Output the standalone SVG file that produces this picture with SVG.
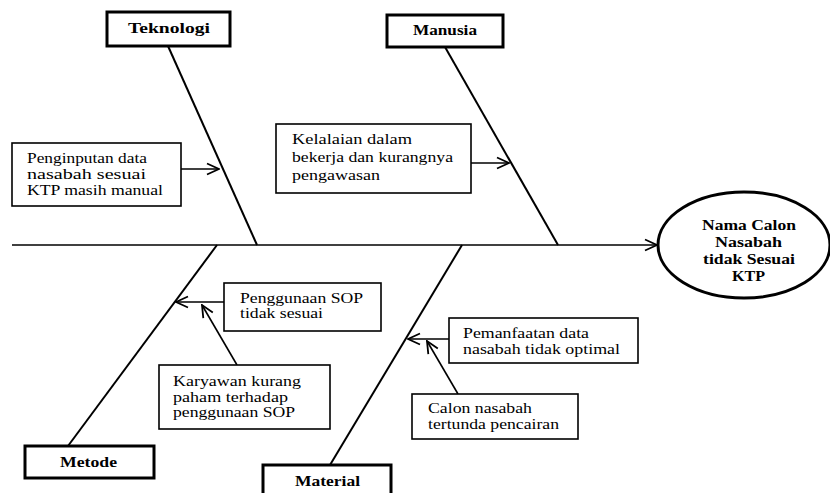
<svg xmlns="http://www.w3.org/2000/svg" width="830" height="493" viewBox="0 0 830 493">
<defs>
<marker id="arr" markerUnits="userSpaceOnUse" markerWidth="14" markerHeight="14" viewBox="0 0 14 14" refX="13" refY="7" orient="auto">
<path d="M1,1.5 L13,7 L1,12.5" fill="none" stroke="#000" stroke-width="1.8"/>
</marker>
</defs>
<style>
.cat{fill:#fff;stroke:#000;stroke-width:3}
.box{fill:#fff;stroke:#000;stroke-width:1.6}
.ln{stroke:#000;stroke-width:2;fill:none}
.ar{stroke:#000;stroke-width:1.6;fill:none;marker-end:url(#arr)}
text{font-family:'Liberation Serif','DejaVu Serif','Times New Roman',serif;font-size:14.5px;fill:#000}
.b{font-weight:bold}
</style>
<rect width="830" height="493" fill="#fff"/>
<g id="connectors">
<line class="ar" x1="12" y1="245" x2="657" y2="245" stroke-width="2"/>
<line class="ln" x1="168" y1="46" x2="257" y2="245"/>
<line class="ln" x1="445" y1="47" x2="558" y2="245"/>
<line class="ln" x1="217" y1="245" x2="68" y2="446"/>
<line class="ln" x1="462" y1="245" x2="330" y2="465"/>
<line class="ar" x1="181" y1="169" x2="219" y2="169"/>
<line class="ar" x1="471" y1="163" x2="509" y2="163"/>
<line class="ar" x1="224" y1="302" x2="176" y2="302"/>
<line class="ar" x1="237" y1="365" x2="202" y2="305"/>
<line class="ar" x1="449" y1="339" x2="408" y2="339"/>
<line class="ar" x1="458" y1="394" x2="427" y2="341"/>
</g>
<g id="teknologi">
<rect class="cat" x="107" y="12" width="123" height="34"/>
<text class="b" x="128" y="33" textLength="82" lengthAdjust="spacingAndGlyphs">Teknologi</text>
</g>
<g id="manusia">
<rect class="cat" x="387" y="15" width="116" height="32"/>
<text class="b" x="413" y="35" textLength="64" lengthAdjust="spacingAndGlyphs">Manusia</text>
</g>
<g id="metode">
<rect class="cat" x="25" y="446" width="129" height="32"/>
<text class="b" x="60" y="467" textLength="57" lengthAdjust="spacingAndGlyphs">Metode</text>
</g>
<g id="material">
<rect class="cat" x="263" y="465" width="128" height="32"/>
<text class="b" x="295" y="486" textLength="65" lengthAdjust="spacingAndGlyphs">Material</text>
</g>
<g id="effect">
<ellipse cx="744" cy="245" rx="86" ry="53" fill="#fff" stroke="#000" stroke-width="3"/>
<text class="b" x="702" y="230" textLength="94" lengthAdjust="spacingAndGlyphs">Nama Calon</text>
<text class="b" x="715" y="247" textLength="67" lengthAdjust="spacingAndGlyphs">Nasabah</text>
<text class="b" x="703" y="264" textLength="92" lengthAdjust="spacingAndGlyphs">tidak Sesuai</text>
<text class="b" x="732" y="281" textLength="33" lengthAdjust="spacingAndGlyphs">KTP</text>
</g>
<g id="penginputan">
<rect class="box" x="12" y="143" width="169" height="63"/>
<text x="27" y="163" textLength="120" lengthAdjust="spacingAndGlyphs">Penginputan data</text>
<text x="27" y="179" textLength="119" lengthAdjust="spacingAndGlyphs">nasabah sesuai</text>
<text x="27" y="195" textLength="136" lengthAdjust="spacingAndGlyphs">KTP masih manual</text>
</g>
<g id="kelalaian">
<rect class="box" x="276" y="124" width="195" height="69"/>
<text x="292" y="144" textLength="120" lengthAdjust="spacingAndGlyphs">Kelalaian dalam</text>
<text x="292" y="162" textLength="161" lengthAdjust="spacingAndGlyphs">bekerja dan kurangnya</text>
<text x="292" y="180" textLength="88" lengthAdjust="spacingAndGlyphs">pengawasan</text>
</g>
<g id="penggunaan">
<rect class="box" x="224" y="283" width="157" height="48"/>
<text x="240" y="303" textLength="123" lengthAdjust="spacingAndGlyphs">Penggunaan SOP</text>
<text x="240" y="318" textLength="83" lengthAdjust="spacingAndGlyphs">tidak sesuai</text>
</g>
<g id="karyawan">
<rect class="box" x="159" y="365" width="171" height="64"/>
<text x="173" y="386" textLength="128" lengthAdjust="spacingAndGlyphs">Karyawan kurang</text>
<text x="173" y="402" textLength="115" lengthAdjust="spacingAndGlyphs">paham terhadap</text>
<text x="173" y="417" textLength="122" lengthAdjust="spacingAndGlyphs">penggunaan SOP</text>
</g>
<g id="pemanfaatan">
<rect class="box" x="449" y="318" width="189" height="45"/>
<text x="463" y="338" textLength="126" lengthAdjust="spacingAndGlyphs">Pemanfaatan data</text>
<text x="463" y="354" textLength="157" lengthAdjust="spacingAndGlyphs">nasabah tidak optimal</text>
</g>
<g id="calon">
<rect class="box" x="412" y="394" width="166" height="45"/>
<text x="428" y="413" textLength="104" lengthAdjust="spacingAndGlyphs">Calon nasabah</text>
<text x="428" y="429" textLength="131" lengthAdjust="spacingAndGlyphs">tertunda pencairan</text>
</g>
</svg>
